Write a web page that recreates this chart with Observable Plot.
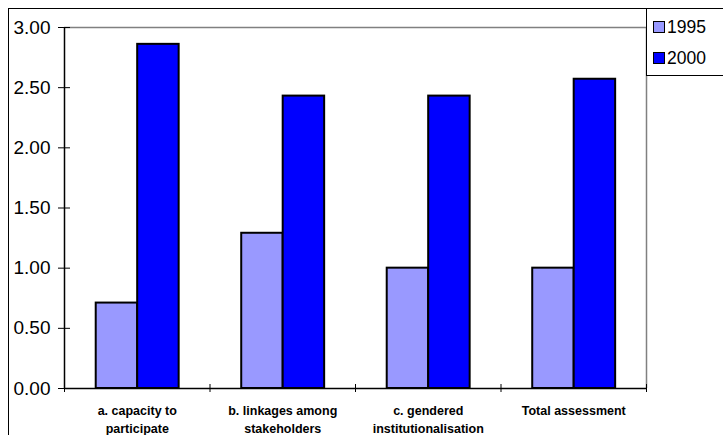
<!DOCTYPE html>
<html>
<head>
<meta charset="utf-8">
<script src="https://cdn.jsdelivr.net/npm/d3@7"></script>
<script src="https://cdn.jsdelivr.net/npm/@observablehq/plot@0.6"></script>
<style>
  html, body { margin: 0; padding: 0; background: #fff; overflow: hidden; }
  #wrap { position: relative; width: 723px; height: 435px; font-family: "Liberation Sans", Arial, sans-serif; }
  #outer { position: absolute; left: 8px; top: 8px; width: 800px; height: 500px; border-left: 1px solid #000; border-top: 1px solid #000; box-sizing: border-box; }
  #chart { position: absolute; left: 0; top: 0; }
  #legend { position: absolute; left: 646px; top: 8px; width: 90px; height: 68px; border: 1px solid #000; box-sizing: border-box; background: #fff; }
  .item { position: absolute; left: 6px; font-size: 17.5px; line-height: 17px; color: #000; }
  .sw { display: inline-block; width: 10px; height: 10px; border: 1px solid #000; margin-right: 2px; vertical-align: 0px; }
</style>
</head>
<body>
<div id="wrap">
  <div id="outer"></div>
  <div id="chart"></div>
  <div id="legend"></div>
</div>
<script>
const categories = ["a. capacity to\nparticipate", "b. linkages among\nstakeholders", "c. gendered\ninstitutionalisation", "Total assessment"];
const years = ["1995", "2000"];
const values1995 = [0.71, 1.29, 1.00, 1.00];
const values2000 = [2.86, 2.43, 2.43, 2.57];
const yTicks = [0, 0.5, 1, 1.5, 2, 2.5, 3];
const colors = ["#9999FF", "#0000FF"];

const rows = [];
categories.forEach((c, i) => {
  rows.push({i, cat: c, year: years[0], value: values1995[i], x1: i + 0.218, x2: i + 0.503});
  rows.push({i, cat: c, year: years[1], value: values2000[i], x1: i + 0.503, x2: i + 0.788});
});
const boundaries = d3.range(categories.length + 1);
const centers = categories.map((c, i) => i + 0.5);

const chart = Plot.plot({
  width: 723,
  height: 435,
  marginLeft: 64,
  marginRight: 77,
  marginTop: 27,
  marginBottom: 47,
  style: {fontFamily: "'Liberation Sans', Arial, sans-serif", background: "transparent"},
  x: {type: "linear", domain: [0, categories.length], axis: null},
  y: {domain: [0, 3], axis: null},
  color: {domain: years, range: colors},
  marks: [
    Plot.ruleY([3], {stroke: "#808080", strokeWidth: 1.5}),
    Plot.ruleX([categories.length], {stroke: "#808080", strokeWidth: 1.5}),
    Plot.rectY(rows, {x1: "x1", x2: "x2", y1: 0, y2: "value", fill: "year", stroke: "#000", strokeWidth: 2}),
    Plot.ruleY([0], {stroke: "#000", strokeWidth: 1.5}),
    Plot.ruleX([0], {stroke: "#000", strokeWidth: 1.5}),
    Plot.axisY({ticks: yTicks, tickSize: 12, dx: 6, tickPadding: 8, tickFormat: d3.format(".2f"), fontSize: 19, stroke: "#000", color: "#000", label: null}),
    Plot.axisX({ticks: boundaries, tickSize: 8, dy: -4, tickFormat: () => "", label: null, stroke: "#000"}),
    Plot.axisX({ticks: centers, tickSize: 0, tickPadding: 14, tickFormat: (d, i) => categories[i], label: null, fontSize: 12.5, fontWeight: "bold", lineHeight: 1.45, color: "#000"})
  ]
});
document.getElementById("chart").appendChild(chart);

const legend = document.getElementById("legend");
years.forEach((y, k) => {
  const div = document.createElement("div");
  div.className = "item";
  div.style.top = (10 + k * 31) + "px";
  const sw = document.createElement("span");
  sw.className = "sw";
  sw.style.background = colors[k];
  div.appendChild(sw);
  div.appendChild(document.createTextNode(y));
  legend.appendChild(div);
});
</script>
</body>
</html>
